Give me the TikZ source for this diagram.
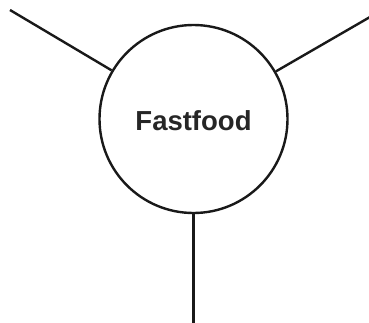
\documentclass[tikz,border=0pt]{standalone}
\usepackage{fontspec}
\setmainfont{Liberation Sans}
\begin{document}
\begin{tikzpicture}[x=1pt,y=-1pt,
  hub/.style={circle,draw=black!90,line width=2.4pt,minimum size=188pt,inner sep=0pt},
  spoke/.style={draw=black!90,line width=2.4pt},
  lbl/.style={font=\bfseries\fontsize{27.5}{30}\selectfont,text=black!85,anchor=base}]
\useasboundingbox (0,0) rectangle (369,322);
\node[hub] (c) at (193.5,119) {};
\node[lbl] (t) at (193.5,130) {Fastfood};
\coordinate (tl) at (10,10);
\coordinate (tr) at (370,17);
\coordinate (b) at (193.5,323);
\draw[spoke] (tl) -- (c);
\draw[spoke] (tr) -- (c);
\draw[spoke] (b) -- (c);
\end{tikzpicture}
\end{document}
